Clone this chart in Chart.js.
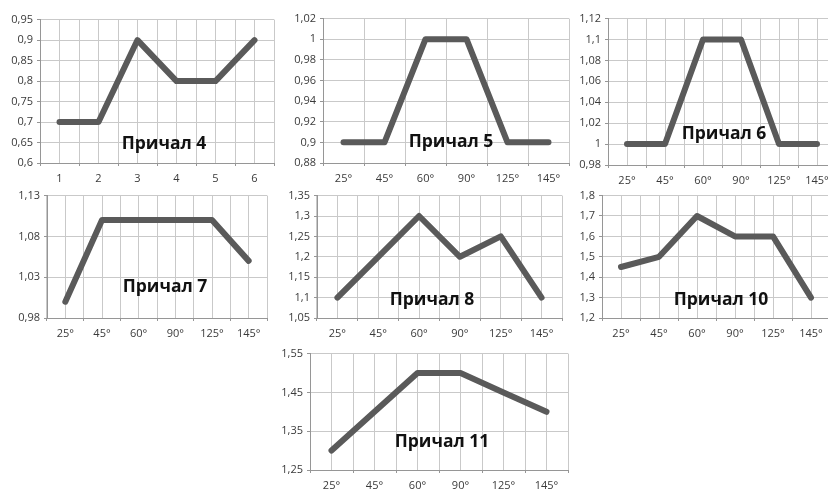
<!DOCTYPE html>
<html>
<head>
<meta charset="utf-8">
<script src="https://cdn.jsdelivr.net/npm/chart.js@4/dist/chart.umd.min.js"></script>
<style>
  body { margin: 0; background: #fff; width: 828px; height: 489px; overflow: hidden; position: relative; }
  .box { position: absolute; }
  .name { position: absolute; font: bold 17.5px "Open Sans", sans-serif; color: #111; transform: translate(-50%, -50%); white-space: nowrap; }
</style>
</head>
<body>
<script>
// categories
const numLabels = ["1", "2", "3", "4", "5", "6"]
const angleLabels = ["25°", "45°", "60°", "90°", "125°", "145°"]

// series values per berth
const berth4 = [0.7, 0.7, 0.9, 0.8, 0.8, 0.9]
const berth5 = [0.9, 0.9, 1.0, 1.0, 0.9, 0.9]
const berth6 = [1.0, 1.0, 1.1, 1.1, 1.0, 1.0]
const berth7 = [1.0, 1.1, 1.1, 1.1, 1.1, 1.05]
const berth8 = [1.1, 1.2, 1.3, 1.2, 1.25, 1.1]
const berth10 = [1.45, 1.5, 1.7, 1.6, 1.6, 1.3]
const berth11 = [1.3, 1.4, 1.5, 1.5, 1.45, 1.4]

// y axis ranges: [min, max, step]
const range4 = [0.6, 0.95, 0.05]
const range5 = [0.88, 1.02, 0.02]
const range6 = [0.98, 1.12, 0.02]
const range7 = [0.98, 1.13, 0.05]
const range8 = [1.05, 1.35, 0.05]
const range10 = [1.2, 1.8, 0.1]
const range11 = [1.25, 1.55, 0.1]

const GRID = "#c9c9c9"
const AXIS = "#969696"
const LINE = "#5a5a5a"
const TEXT = "#3a3a3a"
const tickFont = { family: "Open Sans", size: 11 }

const Y_W = 45, X_H = 30, PAD_T = 8, PAD_R = 6

const fmt = (v) => String(Number(v.toFixed(3))).replace(".", ",")

// plot = [left, top, width, height] of the plotting area on the page
function addChart(name, labels, values, range, plot, dense, namePos) {
  const [px, py, pw, ph] = plot
  const canvas = document.createElement("canvas")
  canvas.className = "box"
  canvas.width = pw + Y_W + PAD_R
  canvas.height = ph + PAD_T + X_H
  canvas.style.left = (px - Y_W) + "px"
  canvas.style.top = (py - PAD_T) + "px"
  document.body.appendChild(canvas)

  new Chart(canvas, {
    type: "line",
    data: {
      labels: labels,
      datasets: [{
        data: values,
        xAxisID: "x",
        borderColor: LINE,
        borderWidth: 6,
        pointRadius: 0,
        tension: 0,
        borderCapStyle: "round",
        borderJoinStyle: "round",
      }],
    },
    options: {
      responsive: false,
      animation: false,
      events: [],
      layout: { padding: { top: PAD_T, right: PAD_R, left: 0, bottom: 0 } },
      plugins: { legend: { display: false }, tooltip: { enabled: false } },
      scales: {
        x: {
          type: "category",
          offset: true,
          grid: { offset: true, color: GRID, tickColor: AXIS, tickLength: 3 },
          border: { color: AXIS },
          ticks: { font: tickFont, color: TEXT, padding: 6, maxRotation: 0, autoSkip: false },
          afterFit: (s) => { s.height = X_H },
        },
        // second category axis: vertical lines through the category centres
        x2: {
          type: "category",
          display: dense,
          position: "bottom",
          offset: true,
          grid: { offset: false, color: GRID, drawTicks: false },
          border: { display: false },
          ticks: { display: false },
          afterFit: (s) => { s.height = 0 },
        },
        y: {
          min: range[0],
          max: range[1],
          ticks: { stepSize: range[2], callback: fmt, font: tickFont, color: TEXT, padding: 4 },
          grid: { color: GRID, tickColor: AXIS, tickLength: 3 },
          border: { color: AXIS },
          afterFit: (s) => { s.width = Y_W },
        },
      },
    },
  })

  const label = document.createElement("div")
  label.className = "name"
  label.textContent = name
  label.style.left = namePos[0] + "px"
  label.style.top = namePos[1] + "px"
  document.body.appendChild(label)
}

addChart("Причал 4", numLabels, berth4, range4, [40, 17, 234, 146], true, [164, 142])
addChart("Причал 5", angleLabels, berth5, range5, [323, 16, 246, 147], false, [451, 140])
addChart("Причал 6", angleLabels, berth6, range6, [608, 16, 228, 149], true, [724, 132])
addChart("Причал 7", angleLabels, berth7, range7, [47, 193, 220, 125], true, [165, 285])
addChart("Причал 8", angleLabels, berth8, range8, [317, 193, 245, 125], true, [432, 298])
addChart("Причал 10", angleLabels, berth10, range10, [602, 193, 228, 125], true, [721, 298])
addChart("Причал 11", angleLabels, berth11, range11, [310, 351, 258, 119], true, [442, 440])
</script>
</body>
</html>
